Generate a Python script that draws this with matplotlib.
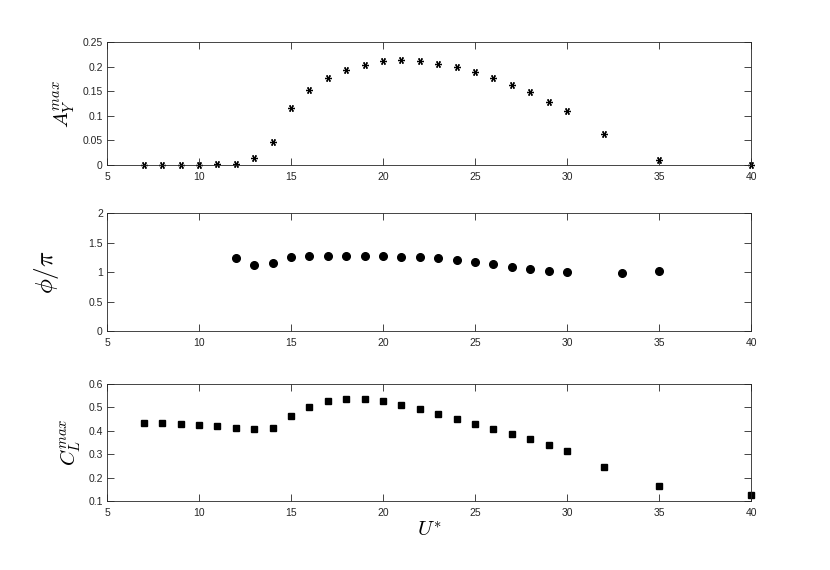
import matplotlib
matplotlib.use('Agg')
import matplotlib.pyplot as plt

plt.rcParams['mathtext.fontset'] = 'cm'
plt.rcParams['font.family'] = ['Liberation Sans', 'DejaVu Sans']

# amplitude A_Y^max vs U*
U_amp = [7, 8, 9, 10, 11, 12, 13, 14, 15, 16, 17, 18, 19, 20, 21, 22, 23, 24,
         25, 26, 27, 28, 29, 30, 32, 35, 40]
A_amp = [0.0, 0.0, 0.0, 0.001, 0.003, 0.003, 0.014, 0.046, 0.115, 0.153, 0.177,
         0.194, 0.204, 0.211, 0.213, 0.211, 0.205, 0.199, 0.189, 0.176, 0.163,
         0.148, 0.129, 0.110, 0.064, 0.011, 0.001]

# phase phi/pi
U_phase = [12, 13, 14, 15, 16, 17, 18, 19, 20, 21, 22, 23, 24, 25, 26, 27, 28,
           29, 30, 33, 35]
phase = [1.23, 1.12, 1.16, 1.25, 1.27, 1.27, 1.27, 1.27, 1.27, 1.25, 1.25, 1.23,
         1.21, 1.17, 1.13, 1.08, 1.05, 1.01, 0.995, 0.98, 1.02]

# lift coefficient C_L^max
U_cl = [7, 8, 9, 10, 11, 12, 13, 14, 15, 16, 17, 18, 19, 20, 21, 22, 23, 24,
        25, 26, 27, 28, 29, 30, 32, 35, 40]
CL = [0.432, 0.432, 0.429, 0.425, 0.420, 0.411, 0.406, 0.412, 0.463, 0.502, 0.526,
      0.537, 0.537, 0.527, 0.512, 0.493, 0.472, 0.450, 0.429, 0.406, 0.385, 0.365,
      0.339, 0.314, 0.245, 0.164, 0.126]

xticks = [5, 10, 15, 20, 25, 30, 35, 40]

fig = plt.figure(figsize=(8.3, 5.7), dpi=100)
W, H = 830.0, 570.0
boxes = [(107, 42, 751, 165), (107, 213, 751, 331), (107, 384, 751, 501)]
axes = []
for (l, t, r, b) in boxes:
    ax = fig.add_axes([l / W, 1 - b / H, (r - l) / W, (b - t) / H])
    axes.append(ax)

gray = '#262626'
for ax in axes:
    ax.set_xlim(5, 40)
    ax.set_xticks(xticks)
    ax.set_xticklabels([str(v) for v in xticks])
    ax.tick_params(direction='in', top=True, right=True, length=5, width=0.6,
                   labelsize=7.5, colors=gray)
    ax.tick_params(axis='x', pad=5)
    ax.tick_params(axis='y', pad=3)
    for s in ax.spines.values():
        s.set_color(gray)
        s.set_linewidth(0.6)

ax1, ax2, ax3 = axes
ax1.plot(U_amp, A_amp, linestyle='none', marker=(6, 2, 90), markersize=5,
         markeredgewidth=0.9, color='black', clip_on=False)
ax1.set_ylim(0, 0.25)
ax1.set_yticks([0, 0.05, 0.1, 0.15, 0.2, 0.25])
ax1.set_yticklabels(['0', '0.05', '0.1', '0.15', '0.2', '0.25'])
ax1.set_ylabel(r'$A_Y^{max}$', fontsize=15, labelpad=4)

ax2.plot(U_phase, phase, linestyle='none', marker='o', markersize=5.5,
         color='black')
ax2.set_ylim(0, 2)
ax2.set_yticks([0, 0.5, 1, 1.5, 2])
ax2.set_yticklabels(['0', '0.5', '1', '1.5', '2'])
ax2.set_ylabel(r'$\phi/\pi$', fontsize=18, labelpad=20)

ax3.plot(U_cl, CL, linestyle='none', marker='s', markersize=4.5,
         color='black', clip_on=False)
ax3.set_ylim(0.1, 0.6)
ax3.set_yticks([0.1, 0.2, 0.3, 0.4, 0.5, 0.6])
ax3.set_yticklabels(['0.1', '0.2', '0.3', '0.4', '0.5', '0.6'])
ax3.set_ylabel(r'$C_L^{max}$', fontsize=15, labelpad=4)
ax3.set_xlabel(r'$U^{*}$', fontsize=15, labelpad=2)

fig.savefig('out.png', dpi=100)
